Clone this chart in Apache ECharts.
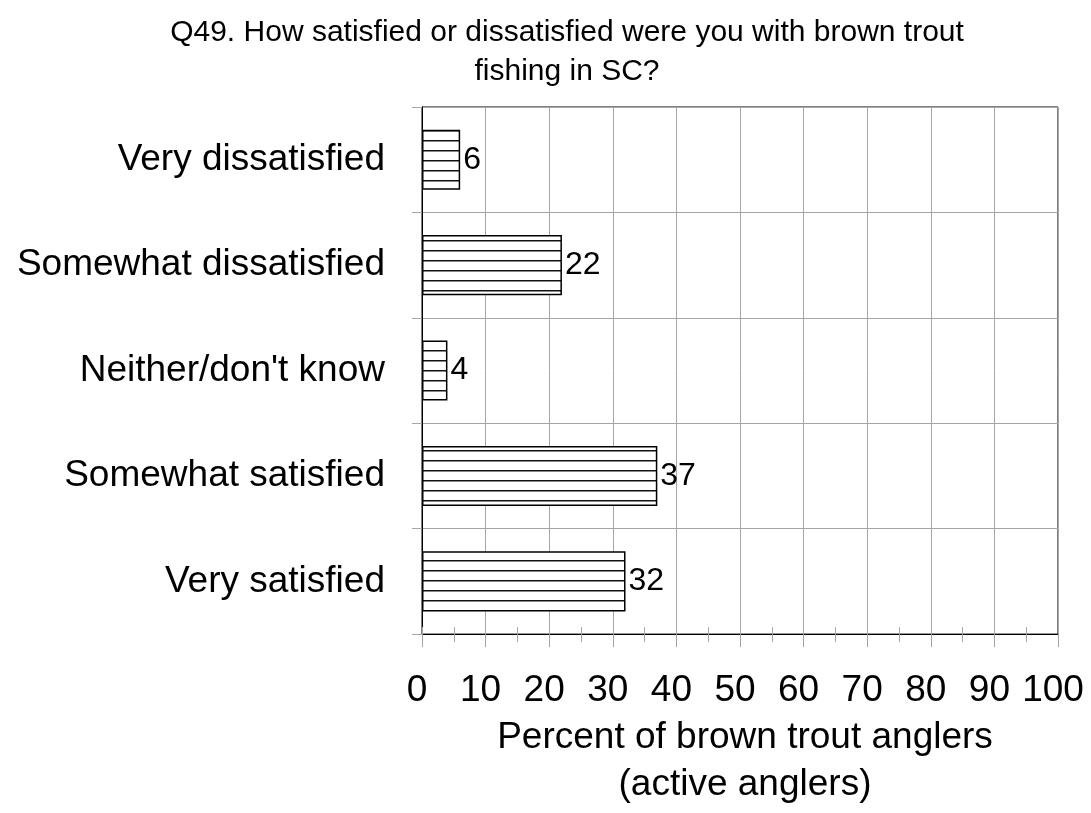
<!DOCTYPE html>
<html>
<head>
<meta charset="utf-8">
<script src="https://cdn.jsdelivr.net/npm/echarts@6/dist/echarts.min.js"></script>
<style>
  html, body { margin: 0; padding: 0; background: #ffffff; }
  #chart { width: 1091px; height: 813px; }
</style>
</head>
<body>
<div id="chart"></div>
<script>
// ---- Data ----
const titleText = 'Q49. How satisfied or dissatisfied were you with brown trout\nfishing in SC?';
const categories = ['Very dissatisfied', 'Somewhat dissatisfied', "Neither/don't know", 'Somewhat satisfied', 'Very satisfied'];
const values = [6, 22, 4, 37, 32];
const axisName = 'Percent of brown trout anglers\n(active anglers)';
const xMin = 0;
const xMax = 100;
const xInterval = 10;

// ---- Stripe pattern ----
function makeStripe() {
  const c = document.createElement('canvas');
  c.width = 8; c.height = 10;
  const ctx = c.getContext('2d');
  ctx.fillStyle = '#ffffff';
  ctx.fillRect(0, 0, 8, 10);
  ctx.fillStyle = '#111111';
  ctx.fillRect(0, 0, 8, 1);
  ctx.fillStyle = '#888888';
  ctx.fillRect(0, 1, 8, 1);
  return c;
}

const FONT = '"Liberation Sans", Arial, sans-serif';
const GRID_GRAY = '#a6a6a6';

const chart = echarts.init(document.getElementById('chart'), null, { renderer: 'canvas' });
chart.setOption({
  backgroundColor: '#ffffff',
  animation: false,
  textStyle: { fontFamily: FONT },
  title: {
    text: titleText,
    left: 562,
    top: 8,
    textAlign: 'center',
    textStyle: { fontFamily: FONT, fontSize: 30, fontWeight: 'normal', color: '#000', lineHeight: 39 }
  },
  grid: {
    left: 422, right: 33, top: 107, bottom: 169,
    show: true, borderColor: '#000', borderWidth: 1, backgroundColor: 'transparent',
    containLabel: false
  },
  xAxis: [{
    type: 'value',
    min: xMin, max: xMax, interval: xInterval,
    position: 'bottom',
    axisLine: { show: true, lineStyle: { color: '#000', width: 1 } },
    axisTick: { show: true, length: 13, lineStyle: { color: GRID_GRAY } },
    minorTick: { show: true, splitNumber: 2, length: 8, lineStyle: { color: GRID_GRAY } },
    splitLine: { show: true, lineStyle: { color: GRID_GRAY, width: 1 } },
    axisLabel: { fontFamily: FONT, fontSize: 37, color: '#000', margin: 38, padding: [0, 10, 0, 0] },
    name: axisName,
    nameLocation: 'middle',
    nameGap: 78,
    nameTextStyle: { fontFamily: FONT, fontSize: 37, color: '#000', lineHeight: 47, padding: [0, 0, 0, 10] }
  }, {
    type: 'value',
    min: xMin, max: xMax, interval: xInterval / 2,
    position: 'bottom',
    axisLine: { show: false },
    axisTick: { show: true, inside: true, length: 7, lineStyle: { color: GRID_GRAY } },
    splitLine: { show: false },
    axisLabel: { show: false }
  }],
  yAxis: {
    type: 'category',
    data: categories,
    inverse: true,
    axisLine: { show: true, lineStyle: { color: '#000', width: 1 } },
    axisTick: { show: true, length: 10, lineStyle: { color: GRID_GRAY } },
    splitLine: { show: true, lineStyle: { color: GRID_GRAY, width: 1 } },
    axisLabel: { fontFamily: FONT, fontSize: 37, color: '#000', margin: 37 }
  },
  series: [{
    type: 'bar',
    xAxisIndex: 0,
    data: values,
    barWidth: '57%',
    itemStyle: {
      color: { image: makeStripe(), repeat: 'repeat' },
      borderColor: '#000',
      borderWidth: 1.5
    },
    label: {
      show: true,
      position: 'right',
      distance: 3,
      fontFamily: FONT,
      fontSize: 32,
      color: '#000'
    }
  }]
});
</script>
</body>
</html>
